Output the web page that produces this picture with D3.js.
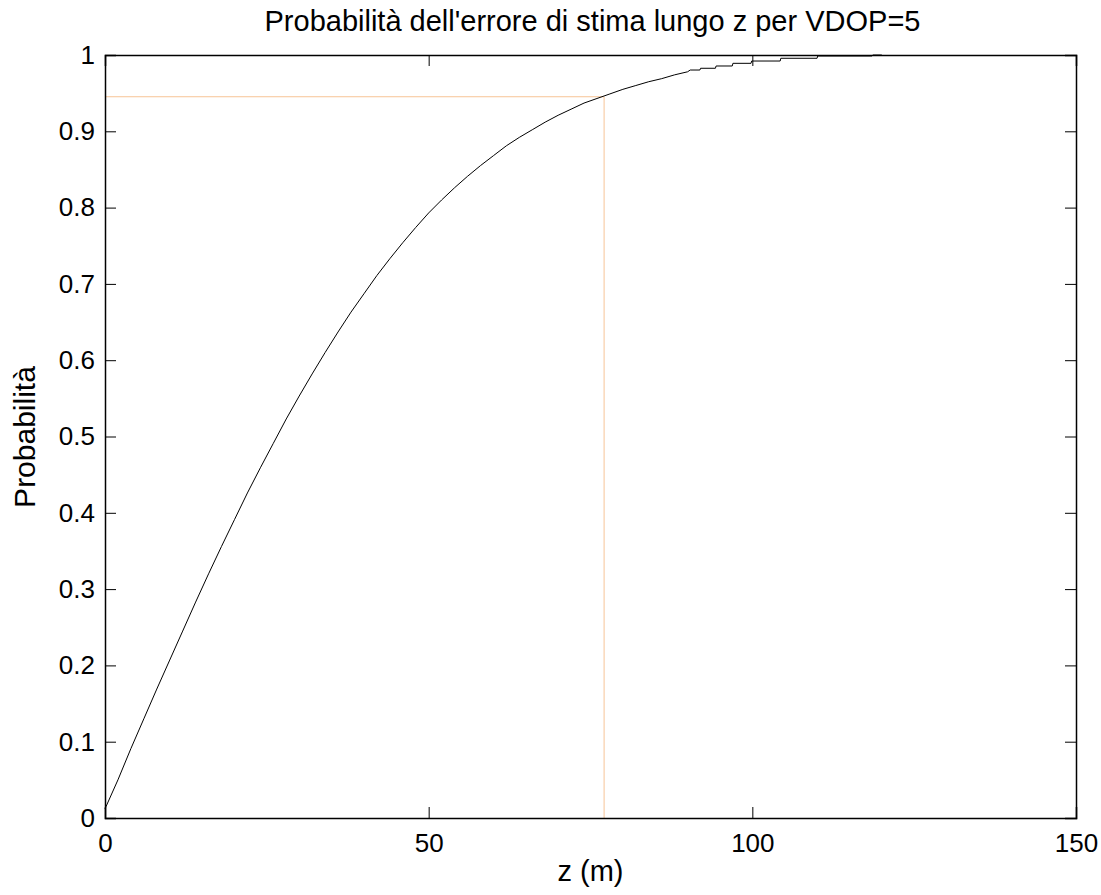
<!DOCTYPE html>
<html>
<head>
<meta charset="utf-8">
<title>Probabilità errore z</title>
<script src="https://d3js.org/d3.v7.min.js"></script>
<style>
  body { margin: 0; background: #fff; }
  text { font-family: "Liberation Sans", Arial, sans-serif; fill: #000; }
</style>
</head>
<body>
<svg width="1101" height="895"></svg>
<script>
// curve: z (m) and probability
var zValues = [0, 2, 4, 6, 8, 10, 12, 14, 16, 18, 20, 22, 24, 26, 28, 30, 32, 34, 36, 38,
               40, 42, 44, 46, 48, 50, 52, 54, 56, 58, 60, 62, 64, 66, 68, 70, 72, 74, 76, 78,
               80, 82, 84, 86, 88, 90, 90.4, 91.9, 92.0, 94.3, 94.4, 96.9, 97.0, 99.8, 99.9,
               104.3, 104.4, 110.0, 110.1, 118.5, 118.6, 120];
var probValues = [0.012, 0.050, 0.091, 0.130, 0.169, 0.207, 0.245, 0.283, 0.320, 0.356,
                  0.391, 0.426, 0.459, 0.491, 0.523, 0.553, 0.582, 0.610, 0.637, 0.663,
                  0.687, 0.711, 0.733, 0.754, 0.774, 0.793, 0.810, 0.826, 0.841, 0.855,
                  0.868, 0.881, 0.892, 0.902, 0.912, 0.921, 0.929, 0.937, 0.943, 0.949,
                  0.955, 0.960, 0.965, 0.969, 0.974, 0.978, 0.9803, 0.9803, 0.9826, 0.9826,
                  0.9856, 0.9856, 0.9891, 0.9891, 0.9921, 0.9921, 0.9957, 0.9957, 0.9987,
                  0.9987, 1.0, 1.0];
// 95% marker (orange guide lines)
var markerZ = 77.1, markerP = 0.9453;

var xTicks = [0, 50, 100, 150];
var yTicks = [0, 0.1, 0.2, 0.3, 0.4, 0.5, 0.6, 0.7, 0.8, 0.9, 1];

var svg = d3.select("svg"),
    margin = {top: 55, right: 25, bottom: 77, left: 105},
    width = +svg.attr("width") - margin.left - margin.right,
    height = +svg.attr("height") - margin.top - margin.bottom,
    g = svg.append("g").attr("transform", `translate(${margin.left},${margin.top})`);

var x = d3.scaleLinear().domain([0, 150]).range([0, width]),
    y = d3.scaleLinear().domain([0, 1]).range([height, 0]);

var data = zValues.map((z, i) => ({z: z, p: probValues[i]}));
var tickLen = 11;

// orange guide lines
g.append("line")
    .attr("x1", x(0)).attr("x2", x(markerZ))
    .attr("y1", y(markerP)).attr("y2", y(markerP))
    .attr("stroke", "#f7c497").attr("stroke-width", 1);
g.append("line")
    .attr("x1", x(markerZ)).attr("x2", x(markerZ))
    .attr("y1", y(0)).attr("y2", y(markerP))
    .attr("stroke", "#f7c497").attr("stroke-width", 1);

// the curve
g.append("path")
    .datum(data)
    .attr("fill", "none")
    .attr("stroke", "#000")
    .attr("stroke-width", 1)
    .attr("d", d3.line().x(d => x(d.z)).y(d => y(d.p)));

// axes: inward ticks on all four sides
var axBottom = g.append("g").attr("transform", `translate(0,${height})`)
    .call(d3.axisBottom(x).tickValues(xTicks).tickSize(-tickLen).tickPadding(tickLen + 5));
var axTop = g.append("g")
    .call(d3.axisTop(x).tickValues(xTicks).tickSize(-tickLen).tickFormat(""));
var axLeft = g.append("g")
    .call(d3.axisLeft(y).tickValues(yTicks).tickSize(-tickLen).tickPadding(tickLen - 1)
        .tickFormat(d => d === 0 || d === 1 ? d3.format("d")(d) : d3.format(".1f")(d)));
var axRight = g.append("g").attr("transform", `translate(${width},0)`)
    .call(d3.axisRight(y).tickValues(yTicks).tickSize(-tickLen).tickFormat(""));

[axBottom, axTop, axLeft, axRight].forEach(a => {
    a.select(".domain").attr("stroke", "#000").attr("stroke-width", 1.5);
    a.selectAll(".tick line").attr("stroke", "#000").attr("stroke-width", 1);
    a.selectAll("text").style("font-size", "26px").attr("fill", "#000");
});

// titles
svg.append("text")
    .attr("x", margin.left + width / 2 + 2).attr("y", 31)
    .attr("text-anchor", "middle")
    .style("font-size", "29px")
    .text("Probabilità dell'errore di stima lungo z per VDOP=5");
svg.append("text")
    .attr("x", margin.left + width / 2).attr("y", 881)
    .attr("text-anchor", "middle")
    .style("font-size", "29px")
    .text("z (m)");
svg.append("text")
    .attr("transform", "translate(35,437) rotate(-90)")
    .attr("text-anchor", "middle")
    .style("font-size", "30px")
    .text("Probabilità");
</script>
</body>
</html>
